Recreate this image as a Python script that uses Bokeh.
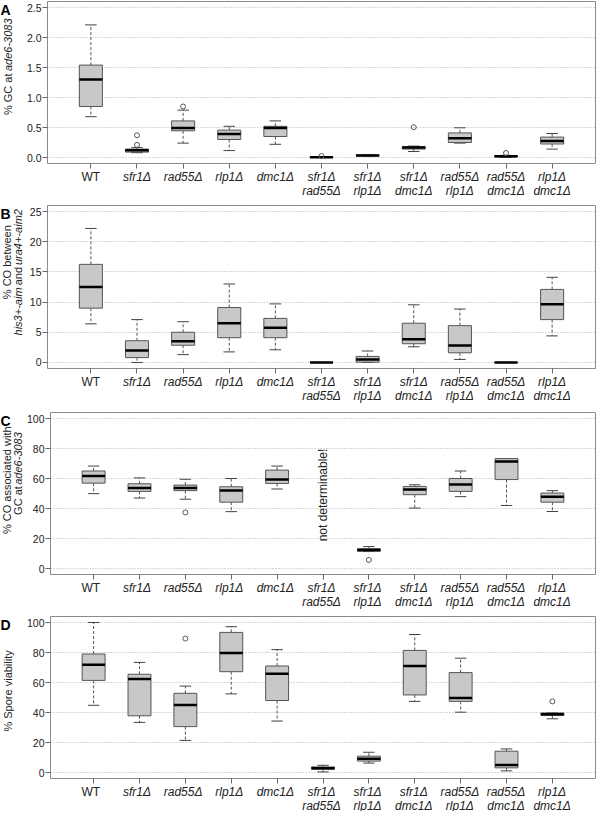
import math
from bokeh.plotting import figure
from bokeh.models import Range1d, FixedTicker, ColumnDataSource, NumeralTickFormatter
from bokeh.layouts import column, row
from bokeh.embed import file_html
from bokeh.resources import INLINE
from bokeh.core.properties import value

# ---------------- data ----------------
genotype_line1 = ["WT", "sfr1Δ", "rad55Δ", "rlp1Δ", "dmc1Δ", "sfr1Δ", "sfr1Δ", "sfr1Δ", "rad55Δ", "rad55Δ", "rlp1Δ"]
genotype_line2 = ["", "", "", "", "", "rad55Δ", "rlp1Δ", "dmc1Δ", "rlp1Δ", "dmc1Δ", "dmc1Δ"]
positions = list(range(1, 12))

NaN = float("nan")

# A: % GC at ade6-3083
a_low = [0.68, 0.08, 0.24, 0.115, 0.22, 0.0, 0.025, 0.10, 0.24, 0.0, 0.14]
a_q1 = [0.85, 0.09, 0.445, 0.30, 0.35, 0.003, 0.028, 0.14, 0.25, 0.01, 0.225]
a_med = [1.30, 0.12, 0.49, 0.39, 0.49, 0.006, 0.035, 0.165, 0.32, 0.02, 0.275]
a_q3 = [1.54, 0.14, 0.61, 0.456, 0.52, 0.01, 0.042, 0.18, 0.41, 0.03, 0.34]
a_high = [2.21, 0.165, 0.79, 0.52, 0.61, 0.012, 0.045, 0.19, 0.495, 0.035, 0.40]
a_out_x = [2, 2, 3, 6, 8, 10]
a_out_y = [0.37, 0.21, 0.85, 0.025, 0.505, 0.075]
a_ticks = [0, 0.5, 1.0, 1.5, 2.0, 2.5]

# B: % CO between his3+-aim and ura4+-aim2
b_low = [6.4, 0.0, 1.3, 1.75, 2.1, 0.0, 0.0, 2.6, 0.5, 0.0, 4.4]
b_q1 = [9.0, 0.8, 2.85, 4.1, 4.1, 0.0, 0.05, 3.1, 1.6, 0.0, 7.1]
b_med = [12.5, 2.0, 3.5, 6.5, 5.75, 0.0, 0.5, 3.85, 2.8, 0.0, 9.65]
b_q3 = [16.25, 3.6, 5.0, 9.1, 7.3, 0.0, 1.0, 6.5, 6.1, 0.0, 12.1]
b_high = [22.2, 7.1, 6.75, 13.0, 9.7, 0.0, 1.9, 9.55, 8.85, 0.0, 14.1]
b_out_x = []
b_out_y = []
b_ticks = [0, 5, 10, 15, 20, 25]

# C: % CO associated with GC at ade6-3083
c_low = [49.9, 47.0, 46.2, 37.9, 53.0, NaN, 11.3, 40.3, 47.9, 42.0, 38.0]
c_q1 = [56.9, 51.4, 51.9, 44.2, 56.7, NaN, 11.5, 49.2, 51.4, 59.3, 44.2]
c_med = [61.7, 53.6, 53.6, 52.0, 59.3, NaN, 12.4, 52.7, 56.0, 71.3, 47.9]
c_q3 = [65.0, 56.5, 55.6, 54.5, 65.6, NaN, 13.2, 54.7, 60.0, 73.3, 50.3]
c_high = [68.3, 60.4, 59.5, 60.0, 68.3, NaN, 14.6, 55.8, 65.0, 73.3, 51.9]
c_out_x = [3, 7]
c_out_y = [37.4, 5.7]
c_ticks = [0, 20, 40, 60, 80, 100]
c_note_x = [6]
c_note_y = [49]
c_note = ["not determinable!"]

# D: % Spore viability
d_low = [44.8, 33.4, 21.4, 52.4, 34.3, 0.4, 6.3, 47.4, 40.2, 1.1, 35.8]
d_q1 = [61.4, 37.8, 30.6, 67.2, 48.0, 2.2, 7.6, 51.7, 47.4, 3.1, 38.0]
d_med = [71.8, 62.4, 45.0, 79.7, 65.9, 2.8, 9.2, 71.0, 49.6, 5.0, 38.9]
d_q3 = [79.0, 65.5, 52.8, 93.4, 71.0, 3.7, 10.9, 81.4, 66.6, 14.2, 39.7]
d_high = [100.0, 73.4, 57.6, 97.2, 81.9, 4.8, 13.5, 92.0, 76.2, 15.7, 39.7]
d_out_x = [3, 11]
d_out_y = [89.3, 47.4]
d_ticks = [0, 20, 40, 60, 80, 100]

# ---------------- style / layout ----------------
FONT = "Liberation Sans"
BOX_FILL = "#c8c8c8"
BOX_LINE = "#555555"
FRAME = "#8a8a8a"
GRID = "#b0b0b0"
TXT = "#222222"
TOTAL_W = 596
YL_W = 23                # left text strip
MAIN_W = TOTAL_W - YL_W
MAIN_BL = 24             # main figure left border (ticks + tick labels)
MAIN_BR = 1
XR = (0.06, 11.94)
BOX_W = 0.5
CAP_W = 0.25
YFS = 11                 # y label font size

ARIAL = {" ": 278, "!": 278, "%": 889, "+": 584, "-": 333, ".": 278,
         "A": 667, "C": 722, "G": 778, "O": 778, "S": 667, "W": 944, "T": 611,
         "a": 556, "b": 556, "c": 500, "d": 556, "e": 556, "f": 278, "g": 556,
         "h": 556, "i": 222, "j": 222, "k": 500, "l": 222, "m": 833, "n": 556,
         "o": 556, "p": 556, "q": 556, "r": 333, "s": 500, "t": 278, "u": 556,
         "v": 500, "w": 722, "x": 500, "y": 500, "z": 500}


def tw(s, fs):
    return sum(ARIAL.get(ch, 556) for ch in s) * fs / 1000.0


def text_fig(width, height, x_range):
    f = figure(width=width, height=height, x_range=x_range, y_range=Range1d(height, 0),
               output_backend="svg", toolbar_location=None,
               x_axis_location=None, y_axis_location=None,
               min_border_left=0, min_border_right=0, min_border_top=0, min_border_bottom=0)
    f.outline_line_color = None
    f.xgrid.visible = False
    f.ygrid.visible = False
    f.background_fill_color = "white"
    f.border_fill_color = "white"
    return f


def panel(letter, low, q1, med, q3, high, out_x, out_y, ticks, fmt,
          top_b, frame_h, xlab_h, ylabel_lines, note=None):
    lo = ticks[0] - 0.04 * (ticks[-1] - ticks[0])
    hi = ticks[-1] + 0.04 * (ticks[-1] - ticks[0])
    tick_b = 6
    height = top_b + frame_h + tick_b
    p = figure(width=MAIN_W, height=height, x_range=Range1d(*XR), y_range=Range1d(lo, hi),
               output_backend="svg", toolbar_location=None,
               min_border_left=MAIN_BL, min_border_right=MAIN_BR,
               min_border_top=top_b, min_border_bottom=tick_b)
    p.outline_line_color = FRAME
    p.outline_line_width = 1
    p.background_fill_color = "white"
    p.border_fill_color = "white"

    p.xgrid.visible = False
    p.ygrid.ticker = FixedTicker(ticks=ticks)
    p.ygrid.grid_line_color = GRID
    p.ygrid.grid_line_dash = "1 2"

    yax = p.yaxis[0]
    yax.ticker = FixedTicker(ticks=ticks)
    yax.formatter = NumeralTickFormatter(format=fmt)
    yax.axis_line_color = None
    yax.major_tick_in = 0
    yax.major_tick_out = 5
    yax.major_tick_line_color = "#666666"
    yax.minor_tick_line_color = None
    yax.major_label_standoff = 1
    yax.major_label_text_font = FONT
    yax.major_label_text_font_size = "10.5px"
    yax.major_label_text_color = TXT

    xax = p.xaxis[0]
    xax.ticker = FixedTicker(ticks=positions)
    xax.major_label_overrides = {i: "" for i in positions}
    xax.axis_line_color = None
    xax.major_tick_in = 0
    xax.major_tick_out = 5
    xax.major_tick_line_color = "#666666"
    xax.minor_tick_line_color = None

    idx = [i for i in range(len(positions)) if not math.isnan(med[i])]
    xs = [positions[i] for i in idx]
    src = ColumnDataSource(dict(
        x=xs,
        low=[low[i] for i in idx], q1=[q1[i] for i in idx], med=[med[i] for i in idx],
        q3=[q3[i] for i in idx], high=[high[i] for i in idx],
        xl=[x - BOX_W / 2 for x in xs], xr=[x + BOX_W / 2 for x in xs],
        cl=[x - CAP_W / 2 for x in xs], cr=[x + CAP_W / 2 for x in xs],
    ))
    p.segment(x0="x", y0="q3", x1="x", y1="high", source=src, line_color=BOX_LINE, line_dash="3 2", line_width=1)
    p.segment(x0="x", y0="q1", x1="x", y1="low", source=src, line_color=BOX_LINE, line_dash="3 2", line_width=1)
    p.segment(x0="cl", y0="high", x1="cr", y1="high", source=src, line_color="#444444", line_width=1)
    p.segment(x0="cl", y0="low", x1="cr", y1="low", source=src, line_color="#444444", line_width=1)
    p.vbar(x="x", width=BOX_W, bottom="q1", top="q3", source=src,
           fill_color=BOX_FILL, line_color=BOX_LINE, line_width=1)
    p.segment(x0="xl", y0="med", x1="xr", y1="med", source=src, line_color="black", line_width=2.5)
    if out_x:
        p.scatter(x=out_x, y=out_y, marker="circle", size=5, fill_color=None,
                  line_color=BOX_LINE, line_width=1)
    if note is not None:
        nx, ny, nt = note
        p.text(x=nx, y=ny, text=nt, angle=math.pi / 2, text_align=value("center"),
               text_baseline=value("middle"), text_font=value(FONT), text_font_size=value("12px"),
               text_color=TXT)

    # ---- left strip: panel letter + y-axis label
    yl = text_fig(YL_W, height, Range1d(0, YL_W))
    yl.text(x=[0], y=[max(top_b - 5, 0)], text=[letter], text_align=value("left"),
            text_baseline=value("top"), text_font=value(FONT), text_font_size=value("14px"),
            text_font_style=value("bold"), text_color="black")
    k = frame_h / (hi - lo)
    for (xc, ycen, pieces) in ylabel_lines:
        row_c = top_b + (hi - ycen) * k
        gap = tw(" ", YFS) + 1.5
        total = sum(tw(t, YFS) for t, _ in pieces) + gap * (len(pieces) - 1)
        r = row_c + total / 2.0
        for t, it in pieces:
            w = tw(t, YFS)
            yl.text(x=[xc], y=[r - w / 2.0], text=[t], angle=math.pi / 2,
                    text_align=value("center"), text_baseline=value("middle"),
                    text_font=value(FONT), text_font_size=value(f"{YFS}px"), text_color=TXT,
                    text_font_style=value("italic" if it else "normal"))
            r -= w + gap

    # ---- bottom strip: genotype labels, same x scale as the frame
    kx = (TOTAL_W - YL_W - MAIN_BL - MAIN_BR) / (XR[1] - XR[0])
    xr_lab = Range1d(XR[0] - (YL_W + MAIN_BL) / kx, XR[1] + MAIN_BR / kx)
    xl = text_fig(TOTAL_W, xlab_h, xr_lab)
    for line, yrow in ((genotype_line1, 0), (genotype_line2, 14)):
        for italic in (False, True):
            sel = [i for i, s in enumerate(line) if s and ((genotype_line1[i] != "WT") == italic)]
            if not sel:
                continue
            xl.text(x=[positions[i] for i in sel], y=[yrow] * len(sel), text=[line[i] for i in sel],
                    text_align=value("center"), text_baseline=value("top"),
                    text_font=value(FONT), text_font_size=value("12px"), text_color=TXT,
                    text_font_style=value("italic" if italic else "normal"))
    return column(row(yl, p, spacing=0), xl, spacing=0)


pA = panel("A", a_low, a_q1, a_med, a_q3, a_high, a_out_x, a_out_y, a_ticks, "0.0",
           1, 162, 31, [(7, 1.48, [("% GC at", False), ("ade6-3083", True)])])
pB = panel("B", b_low, b_q1, b_med, b_q3, b_high, b_out_x, b_out_y, b_ticks, "0",
           5, 163, 32, [(6, 16.8, [("% CO between", False)]),
                        (17, 15.0, [("his3+-aim", True), ("and", False), ("ura4+-aim2", True)])])
pC = panel("C", c_low, c_q1, c_med, c_q3, c_high, c_out_x, c_out_y, c_ticks, "0",
           6, 162, 32, [(6, 59.5, [("% CO associated with", False)]),
                        (17, 64.0, [("GC at", False), ("ade6-3083", True)])],
           note=(c_note_x, c_note_y, c_note))
pD = panel("D", d_low, d_q1, d_med, d_q3, d_high, d_out_x, d_out_y, d_ticks, "0",
           4, 162, 27, [(7, 54.0, [("% Spore viability", False)])])

layout = column(pA, pB, pC, pD, spacing=0)
open("out.html", "w").write(file_html(layout, INLINE))
